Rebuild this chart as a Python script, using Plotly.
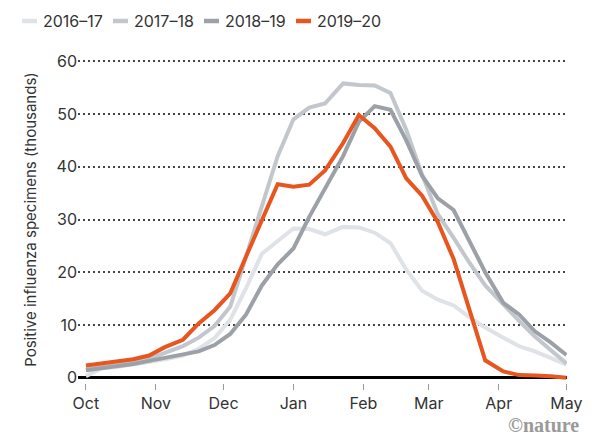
import plotly.graph_objects as go

weeks = ["2019-10-01", "2019-10-08", "2019-10-15", "2019-10-22", "2019-10-29",
         "2019-11-05", "2019-11-13", "2019-11-20", "2019-11-27", "2019-12-04",
         "2019-12-11", "2019-12-18", "2019-12-25", "2020-01-01", "2020-01-08",
         "2020-01-15", "2020-01-23", "2020-01-30", "2020-02-06", "2020-02-13",
         "2020-02-20", "2020-02-27", "2020-03-05", "2020-03-12", "2020-03-19",
         "2020-03-26", "2020-04-03", "2020-04-10", "2020-04-17", "2020-04-24",
         "2020-05-01"]

s2016_17 = [0.3, 1.8, 2.1, 2.5, 3.0, 3.5, 4.2, 5.5, 7.5, 11.0, 17.0, 23.5, 26.0, 28.3,
            28.2, 27.2, 28.6, 28.5, 27.5, 25.5, 20.5, 16.5, 14.8, 13.7, 11.5, 9.5,
            7.6, 6.0, 5.0, 3.8, 2.5]
s2017_18 = [1.6, 2.0, 2.4, 3.0, 3.6, 4.7, 6.0, 7.6, 9.8, 13.5, 23.0, 32.0, 42.0, 49.0,
            51.2, 52.0, 55.8, 55.5, 55.4, 54.0, 47.0, 38.5, 31.0, 26.5, 21.8, 17.5,
            13.8, 10.8, 7.8, 5.3, 2.7]
s2018_19 = [1.4, 1.8, 2.1, 2.6, 3.2, 3.8, 4.5, 5.0, 6.2, 8.3, 12.0, 17.5, 21.5, 24.5,
            30.5, 35.8, 42.0, 48.5, 51.5, 50.8, 45.0, 38.3, 34.0, 31.8, 26.0, 20.0,
            14.2, 12.0, 8.8, 6.7, 4.3]
s2019_20 = [2.3, 2.7, 3.0, 3.5, 4.2, 5.8, 7.2, 10.3, 12.8, 16.0, 23.0, 30.0, 36.7, 36.2,
            36.6, 39.3, 44.5, 49.8, 47.3, 43.8, 37.8, 34.5, 29.5, 22.5, 12.9, 3.3,
            1.2, 0.5, 0.4, 0.3, 0.0]

series_names = ["2016–17", "2017–18", "2018–19", "2019–20"]
series_values = [s2016_17, s2017_18, s2018_19, s2019_20]
series_colors = ["#dfe2e6", "#c2c7cd", "#9ca1a8", "#e8561f"]

month_ticks = ["2019-10-01", "2019-11-01", "2019-12-01", "2020-01-01",
               "2020-02-01", "2020-03-01", "2020-04-01", "2020-05-01"]
month_labels = ["Oct", "Nov", "Dec", "Jan", "Feb", "Mar", "Apr", "May"]
y_ticks = [0, 10, 20, 30, 40, 50, 60]

FONT = "Inter, Roboto, sans-serif"
W, H = 600, 437
ML, MR, MT, MB = 78, 33, 56, 54
PW, PH = W - ML - MR, H - MT - MB


def px_x(p):
    return (p - ML) / PW


def px_y(p):
    return (H - MB - p) / PH


fig = go.Figure()
for name, vals, col in zip(series_names, series_values, series_colors):
    fig.add_trace(go.Scatter(x=weeks, y=vals, name=name, mode="lines",
                             line=dict(color=col, width=4, shape="linear"),
                             showlegend=False, hoverinfo="skip"))

# legend (swatch + label) along the top
legend_left = [22, 113, 204, 296]
for name, col, lx in zip(series_names, series_colors, legend_left):
    fig.add_shape(type="line", xref="paper", yref="paper",
                  x0=px_x(lx), x1=px_x(lx + 15), y0=px_y(21), y1=px_y(21),
                  line=dict(color=col, width=4.5))
    fig.add_annotation(text=name, xref="paper", yref="paper",
                       x=px_x(lx + 19), y=px_y(21), xanchor="left", yanchor="middle",
                       showarrow=False, font=dict(size=16, color="#333333"))

fig.update_layout(
    width=W, height=H,
    margin=dict(l=ML, r=MR, t=MT, b=MB, autoexpand=False),
    paper_bgcolor="white", plot_bgcolor="white",
    font=dict(family=FONT, size=16, color="#333333"),
    showlegend=False,
    xaxis=dict(type="date", range=["2019-09-27 12:00", "2020-05-01 06:00"],
               tickvals=month_ticks, ticktext=month_labels, automargin=False,
               showgrid=False, zeroline=False, showline=False,
               ticks="outside", ticklen=6, tickwidth=1, tickcolor="#999999",
               tickfont=dict(size=16, color="#333333")),
    yaxis=dict(range=[-1, 61], tickvals=y_ticks, showgrid=True, automargin=False,
               gridcolor="#444444", gridwidth=1.5, griddash="1.5px,3.5px",
               zeroline=True, zerolinecolor="#000000", zerolinewidth=3,
               showline=False, ticks="",
               tickfont=dict(size=16, color="#333333"),
               title=dict(text="Positive influenza specimens (thousands)",
                          font=dict(size=15, color="#333333"), standoff=16)),
)

fig.add_annotation(text="<b>©nature</b>", xref="paper", yref="paper",
                   x=px_x(581), y=px_y(412),
                   xanchor="right", yanchor="top", showarrow=False,
                   font=dict(family="Liberation Serif, serif", size=20, color="#9a9a9a"))

fig.write_html("out.html", config={"displayModeBar": False},
               post_script="document.body.style.margin='0';")
